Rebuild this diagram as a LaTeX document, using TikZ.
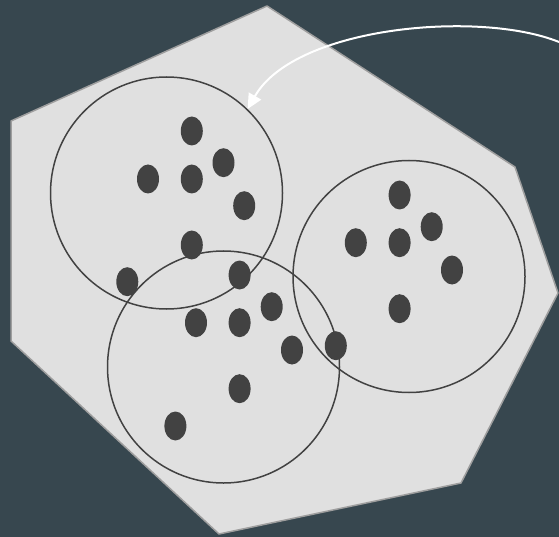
\documentclass[tikz,border=0pt]{standalone}
\usepackage{tikz}
\usetikzlibrary{arrows.meta}
\definecolor{bgslate}{RGB}{55, 71, 79}
\definecolor{hullfill}{RGB}{224, 224, 224}
\definecolor{hullline}{RGB}{158, 158, 158}
\definecolor{pointdark}{RGB}{66, 66, 66}

\tikzset{
  cluster/.style={circle, draw=pointdark, line width=1.5pt, minimum size=232pt, inner sep=0pt},
  datapoint/.style={fill=pointdark}
}

\begin{document}
\begin{tikzpicture}[x=1pt, y=-1pt, >=Stealth]

  % Background
  \fill[bgslate] (0, 0) rectangle (559, 537);
  \useasboundingbox (0, 0) rectangle (559, 537);

  % Convex hull
  \filldraw[fill=hullfill, draw=hullline, line width=1.5pt, line join=round]
    (267, 6) -- (515, 167) -- (558, 293) -- (461, 483) -- (219, 534)
    -- (11, 341) -- (11, 121) -- cycle;

  % Clusters
  \node[cluster] (clusterA) at (166.5, 193) {};
  \node[cluster] (clusterB) at (409, 276.5) {};
  \node[cluster] (clusterC) at (223.5, 367) {};

  % Data points
  \foreach \px/\py in {191.8/131, 148/179, 191.8/179, 223.5/162.7, 244.2/205.7,
                       191.8/245, 399.6/195, 431.7/226.7, 355.8/242.7, 399.6/242.7,
                       452/270, 127.3/281.7, 239.6/275, 196/322.7, 239.6/322.7,
                       271.7/306.7, 399.6/308.7, 292/350, 335.8/345.7, 239.6/388.7,
                       175.4/426}
    \fill[datapoint] (\px, \py) ellipse [x radius=11, y radius=14.5];

  % Pointer
  \coordinate (pointerstart) at (559, 42);
  \draw[-{Triangle[length=15pt, width=14pt]}, white, line width=2pt]
    (pointerstart) .. controls (480, 10) and (295, 26) .. (clusterA.46);

\end{tikzpicture}
\end{document}
